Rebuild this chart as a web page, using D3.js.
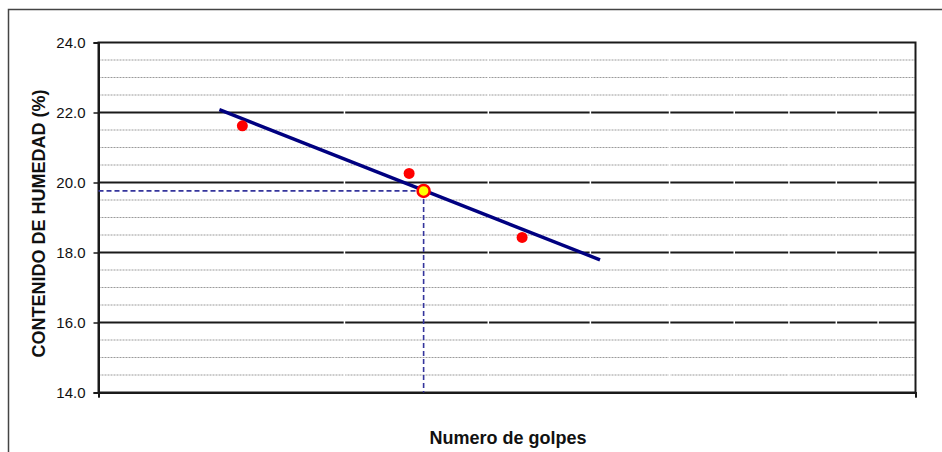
<!DOCTYPE html>
<html>
<head>
<meta charset="utf-8">
<script src="https://cdn.jsdelivr.net/npm/d3@7/dist/d3.min.js"></script>
<style>
  html, body { margin: 0; padding: 0; background: #fff; }
  svg { display: block; font-family: "Liberation Sans", Arial, sans-serif; }
</style>
</head>
<body>
<svg id="chart" width="942" height="452"></svg>
<script>
// Ensayo de límite líquido: golpes vs. contenido de humedad
const golpes   = [15, 24, 33];
const humedad  = [21.62, 20.26, 18.43];

// Punto a 25 golpes (límite líquido)
const golpesLL  = [25];
const humedadLL = [19.76];

// Recta de ajuste (extremos)
const trendGolpes  = [14.06, 41.1];
const trendHumedad = [22.08, 17.79];

// Ejes
const yMajorTicks = [14, 16, 18, 20, 22, 24];
const yMinorTicks = d3.range(14.5, 24, 0.5).filter(v => v % 2 !== 0);
const xGridTicks  = [20, 30, 40, 50, 60, 70, 80, 90];
const xDomain = [10, 100];
const yDomain = [14, 24];

const svg = d3.select("#chart");

const plot = { left: 98.5, right: 915.5, top: 42.5, bottom: 392.5 };

const x = d3.scaleLog().domain(xDomain).range([plot.left, plot.right]);
const y = d3.scaleLinear().domain(yDomain).range([plot.bottom, plot.top]);

// Marco exterior
svg.append("rect")
  .attr("x", 8.5).attr("y", 9.5)
  .attr("width", 1000).attr("height", 1000)
  .attr("fill", "none").attr("stroke", "#444").attr("stroke-width", 1.5);

// Líneas de división menores
svg.append("g")
  .selectAll("line")
  .data(yMinorTicks)
  .join("line")
  .attr("x1", plot.left).attr("x2", plot.right)
  .attr("y1", d => y(d)).attr("y2", d => y(d))
  .attr("stroke", "#9a9a9a").attr("stroke-width", 1)
  .attr("stroke-dasharray", "2,1");

// Líneas de división principales
svg.append("g")
  .selectAll("line")
  .data(yMajorTicks.filter(d => d > yDomain[0] && d < yDomain[1]))
  .join("line")
  .attr("x1", plot.left).attr("x2", plot.right)
  .attr("y1", d => y(d)).attr("y2", d => y(d))
  .attr("stroke", "#1a1a1a").attr("stroke-width", 2);

// Divisiones verticales (blancas) en escala logarítmica
svg.append("g")
  .selectAll("line")
  .data(xGridTicks)
  .join("line")
  .attr("x1", d => x(d)).attr("x2", d => x(d))
  .attr("y1", plot.top).attr("y2", plot.bottom)
  .attr("stroke", "#fff").attr("stroke-width", 1.5);

// Borde del área de trazado
svg.append("rect")
  .attr("x", plot.left).attr("y", plot.top)
  .attr("width", plot.right - plot.left).attr("height", plot.bottom - plot.top)
  .attr("fill", "none").attr("stroke", "#1a1a1a").attr("stroke-width", 2);

// Eje Y
const yAxis = svg.append("g")
  .attr("transform", `translate(${plot.left},0)`)
  .call(d3.axisLeft(y).tickValues(yMajorTicks).tickSize(5).tickPadding(8)
    .tickFormat(d3.format(".1f")));
yAxis.select(".domain").attr("stroke", "#1a1a1a").attr("stroke-width", 2);
yAxis.selectAll(".tick line").attr("stroke", "#1a1a1a").attr("stroke-width", 1.5);
yAxis.selectAll(".tick text")
  .attr("font-size", 15).attr("fill", "#111")
  .attr("font-family", "'Liberation Sans', Arial, sans-serif");

// Eje X (solo marcas en los extremos)
const xAxis = svg.append("g")
  .attr("transform", `translate(0,${plot.bottom})`)
  .call(d3.axisBottom(x).tickValues(xDomain).tickSize(5).tickFormat(""));
xAxis.select(".domain").attr("stroke", "#1a1a1a").attr("stroke-width", 2);
xAxis.selectAll(".tick line").attr("stroke", "#1a1a1a").attr("stroke-width", 1.5);

// Líneas de referencia a 25 golpes
const refColor = "#34349c";
svg.append("line")
  .attr("x1", plot.left).attr("x2", x(golpesLL[0]))
  .attr("y1", y(humedadLL[0])).attr("y2", y(humedadLL[0]))
  .attr("stroke", refColor).attr("stroke-width", 1.6).attr("stroke-dasharray", "5,3");
svg.append("line")
  .attr("x1", x(golpesLL[0])).attr("x2", x(golpesLL[0]))
  .attr("y1", y(humedadLL[0])).attr("y2", plot.bottom)
  .attr("stroke", refColor).attr("stroke-width", 1.6).attr("stroke-dasharray", "5,3");

// Recta de ajuste
const trend = trendGolpes.map((g, i) => [g, trendHumedad[i]]);
svg.append("path")
  .datum(trend)
  .attr("d", d3.line().x(d => x(d[0])).y(d => y(d[1])))
  .attr("fill", "none").attr("stroke", "#000080").attr("stroke-width", 3.4);

// Puntos del ensayo
svg.append("g")
  .selectAll("circle")
  .data(golpes.map((g, i) => [g, humedad[i]]))
  .join("circle")
  .attr("cx", d => x(d[0])).attr("cy", d => y(d[1]))
  .attr("r", 5.5).attr("fill", "#ff0000");

// Punto a 25 golpes
svg.append("g")
  .selectAll("circle")
  .data(golpesLL.map((g, i) => [g, humedadLL[i]]))
  .join("circle")
  .attr("cx", d => x(d[0])).attr("cy", d => y(d[1]))
  .attr("r", 6).attr("fill", "#ffff00")
  .attr("stroke", "#ff0000").attr("stroke-width", 2.5);

// Títulos de los ejes
svg.append("text")
  .attr("x", 508).attr("y", 444)
  .attr("text-anchor", "middle")
  .attr("font-size", 18).attr("font-weight", "bold").attr("fill", "#111")
  .text("Numero de golpes");

svg.append("text")
  .attr("transform", "translate(45,223.5) rotate(-90)")
  .attr("text-anchor", "middle")
  .attr("font-size", 18).attr("font-weight", "bold").attr("fill", "#111")
  .text("CONTENIDO DE HUMEDAD (%)");
</script>
</body>
</html>
